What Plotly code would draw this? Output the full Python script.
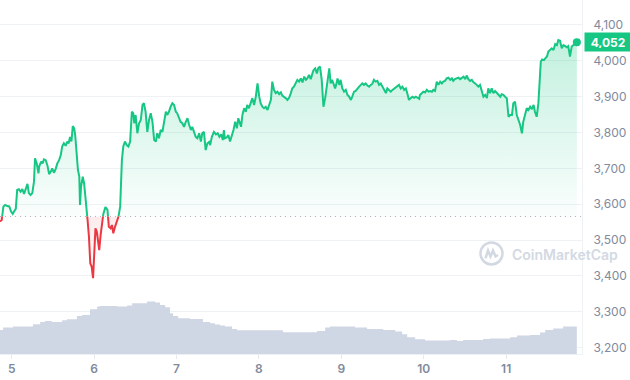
import pandas as pd
import plotly.graph_objects as go

# ---------------- data ----------------
start_time = "2024-03-04 20:35"
open_price = 3566

price_hours = [
    0.0, 0.5, 1.0, 1.5, 2.1, 2.7, 3.2, 3.7, 4.1, 4.6,
    5.0, 5.5, 6.0, 6.5, 7.0, 7.5, 8.0, 8.4, 8.9, 9.4,
    9.9, 10.2, 10.7, 11.2, 11.4, 12.0, 12.4, 12.8, 13.3, 13.8,
    14.3, 14.8, 15.2, 15.7, 16.2, 16.7, 17.2, 17.7, 18.1, 18.6,
    19.1, 19.6, 20.0, 20.4, 20.8, 21.2, 21.6, 21.9, 22.3, 22.7,
    23.1, 23.3, 23.6, 24.1, 24.5, 24.8, 25.3, 25.5, 25.9, 26.3,
    26.7, 27.1, 27.5, 27.8, 28.2, 28.5, 28.9,
    29.3, 29.7, 30.1, 30.7, 31.3, 31.7, 32.2, 32.6, 33.0, 33.5,
    34.0, 34.5, 35.0, 35.5, 35.9, 36.4, 36.9, 37.4, 37.9, 38.4,
    38.8, 39.1, 39.5, 40.0, 40.5, 41.0, 41.5, 41.9, 42.4, 42.9,
    43.4, 43.9, 44.4, 44.9, 45.4, 45.8, 46.3, 46.8, 47.3, 47.8,
    48.3, 48.7, 49.2, 49.7, 50.2, 50.7, 51.2, 51.6, 52.1, 52.6,
    53.1, 53.6, 54.1, 54.6, 55.1, 55.6, 56.0, 56.5, 57.0, 57.5,
    58.0, 58.5, 58.9, 59.4,
    59.9, 60.4, 60.9, 61.2, 61.7, 62.3, 62.9, 63.4, 63.9, 64.4,
    64.9, 65.2, 65.5, 66.0, 66.5, 67.0, 67.5, 68.0, 68.5, 69.0,
    69.4, 69.8, 70.2, 70.6, 71.1, 71.6, 72.0, 72.5, 73.0, 73.5,
    74.0, 74.5, 75.0, 75.2, 75.5, 75.9, 76.4, 76.9, 77.4, 77.9,
    78.4, 78.9, 79.3, 79.8, 80.3, 80.8, 81.3, 81.8, 82.2, 82.7,
    83.2, 83.7, 84.2, 84.7, 85.1, 85.6, 86.1, 86.6, 87.1, 87.6,
    88.1, 88.6, 89.1, 89.5, 90.0, 90.5, 91.0, 91.3,
    91.8, 92.3, 92.7, 93.2, 93.7, 94.2, 94.7, 95.2, 95.6, 95.9,
    96.3, 96.7, 97.1, 97.6, 97.9, 98.3, 98.8, 99.2, 99.7, 100.2,
    100.7, 101.2, 101.7, 102.2, 102.6, 103.1, 103.6, 104.1, 104.6, 105.1,
    105.5, 106.0, 106.5, 107.0, 107.5, 108.0, 108.5, 108.9, 109.4, 109.9,
    110.4, 110.9, 111.4, 111.9, 112.4, 112.8, 113.3, 113.8, 114.3, 114.8,
    115.3, 115.7, 116.2, 116.7, 117.2, 117.7, 118.2, 118.6, 119.1, 119.6,
    120.1, 120.6, 121.1, 121.6, 122.1,
    122.3, 122.8, 123.3, 123.8, 124.3, 124.8, 125.3, 125.8, 126.2, 126.7,
    127.2, 127.7, 128.2, 128.7, 129.1, 129.6, 130.1, 130.6, 131.1, 131.6,
    132.0, 132.5, 133.0, 133.5, 134.0, 134.5, 135.0, 135.5, 135.9, 136.4,
    136.9, 137.4, 137.9, 138.4, 138.9, 139.3, 139.8, 140.3, 140.8, 141.3,
    141.8, 142.2, 142.7, 143.2, 143.7, 144.2, 144.7, 145.2, 145.7, 146.1,
    146.6, 147.1, 147.6,
    148.1, 148.6, 149.1, 149.5, 150.0, 150.5, 151.0, 151.5, 152.0, 152.4,
    152.9, 153.4, 153.9, 154.4, 154.9, 155.4, 155.8, 156.3, 156.8, 157.1,
    157.5, 157.9, 158.4, 158.8, 159.3, 159.7, 160.2, 160.7, 161.2, 161.7,
    162.2, 162.6, 163.1, 163.6, 164.1, 164.6, 165.1, 165.5, 166.0, 166.5,
    167.0, 167.5, 168.0,
]

price = [
    3552, 3556, 3594, 3598, 3595, 3594, 3580, 3573, 3580, 3587,
    3640, 3642, 3635, 3642, 3629, 3645, 3657, 3631, 3626, 3631,
    3663, 3728, 3714, 3686, 3705, 3719, 3714, 3725, 3723, 3709,
    3684, 3691, 3700, 3688, 3698, 3714, 3723, 3737, 3761, 3770,
    3763, 3775, 3770, 3788, 3775, 3818, 3812, 3793, 3733, 3696,
    3677, 3598, 3649, 3677, 3658, 3631, 3584, 3556, 3510, 3435,
    3426, 3394, 3472, 3533, 3523, 3500, 3472,
    3514, 3545, 3573, 3592, 3584, 3537, 3533, 3542, 3519, 3537,
    3551, 3565, 3594, 3723, 3761, 3775, 3765, 3761, 3775, 3858,
    3854, 3826, 3849, 3798, 3826, 3835, 3877, 3882, 3858, 3802,
    3835, 3854, 3830, 3779, 3775, 3798, 3784, 3807, 3802, 3826,
    3858, 3849, 3858, 3872, 3882, 3877, 3858, 3854, 3840, 3830,
    3826, 3816, 3830, 3840, 3821, 3807, 3816, 3802, 3788, 3784,
    3798, 3775, 3798, 3802,
    3751, 3770, 3774, 3765, 3788, 3802, 3795, 3798, 3788, 3795,
    3779, 3807, 3784, 3786, 3793, 3775, 3788, 3807, 3830, 3812,
    3840, 3826, 3816, 3849, 3868, 3858, 3877, 3868, 3886, 3896,
    3877, 3900, 3937, 3919, 3900, 3882, 3872, 3868, 3872, 3863,
    3877, 3891, 3942, 3919, 3910, 3914, 3907, 3912, 3903, 3900,
    3896, 3891, 3897, 3910, 3923, 3928, 3937, 3947, 3942, 3951,
    3940, 3956, 3947, 3951, 3961, 3949, 3965, 3974,
    3979, 3965, 3980, 3984, 3947, 3872, 3896, 3933, 3970, 3979,
    3937, 3947, 3937, 3923, 3933, 3951, 3933, 3947, 3923, 3914,
    3919, 3905, 3900, 3891, 3900, 3914, 3916, 3923, 3928, 3933,
    3937, 3933, 3937, 3931, 3928, 3933, 3937, 3947, 3942, 3944,
    3933, 3937, 3928, 3923, 3910, 3923, 3919, 3914, 3919, 3923,
    3928, 3930, 3933, 3923, 3928, 3919, 3923, 3910, 3891, 3896,
    3900, 3897, 3900, 3897, 3894,
    3905, 3910, 3914, 3912, 3919, 3914, 3916, 3914, 3919, 3916,
    3942, 3933, 3942, 3937, 3942, 3944, 3951, 3953, 3947, 3951,
    3944, 3949, 3951, 3953, 3949, 3953, 3956, 3949, 3959, 3949,
    3944, 3947, 3940, 3937, 3933, 3928, 3933, 3916, 3900, 3905,
    3896, 3923, 3910, 3923, 3910, 3916, 3910, 3907, 3900, 3907,
    3905, 3900, 3896,
    3844, 3849, 3849, 3882, 3886, 3849, 3835, 3821, 3798, 3830,
    3849, 3868, 3863, 3872, 3865, 3877, 3858, 3844, 3882, 3947,
    3998, 4004, 4002, 4007, 4012, 4026, 4030, 4035, 4030, 4047,
    4044, 4058, 4056, 4035, 4044, 4040, 4038, 4041, 4012, 4040,
    4044, 4049, 4052,
]

volume_hours = [
    0.0, 0.9, 3.8, 9.6, 11.7, 13.1, 15.1, 18.1, 19.5, 22.4,
    23.9, 26.2, 28.3, 29.1, 34.1, 37.0, 38.5, 42.8, 45.2, 46.6,
    48.1, 49.5, 50.4, 51.9, 55.3, 59.1, 61.2, 62.6, 64.1, 65.5,
    67.6, 69.0, 82.4, 92.3, 94.7, 96.1, 103.4, 106.9, 111.6, 115.1,
    117.1, 118.6, 120.9, 123.8, 131.1, 133.1, 134.9, 140.7, 142.7, 148.6,
    150.6, 154.4, 157.3, 158.8, 161.1, 164.0, 168.0,
]
volume_bn = [
    12.0, 13.2, 13.7, 14.9, 16.0, 16.5, 16.0, 16.9, 17.4, 19.0,
    19.5, 22.4, 23.7, 24.0, 23.7, 24.2, 25.4, 26.2, 25.7, 24.5,
    23.4, 20.4, 19.0, 17.9, 17.5, 16.0, 15.4, 14.7, 14.2, 13.7,
    12.5, 11.9, 10.9, 11.5, 13.2, 13.7, 13.2, 12.5, 12.0, 11.2,
    9.9, 8.4, 7.4, 6.7, 7.0, 6.5, 7.0, 7.5, 7.7, 8.4,
    9.2, 9.5, 10.7, 12.0, 12.7, 13.7, 13.7,
]

day_ticks = ["2024-03-05", "2024-03-06", "2024-03-07", "2024-03-08",
             "2024-03-09", "2024-03-10", "2024-03-11"]
day_labels = ["5", "6", "7", "8", "9", "10", "11"]
price_ticks = [3200, 3300, 3400, 3500, 3600, 3700, 3800, 3900, 4000, 4100]
current_label = "4,052"

assert len(price_hours) == len(price)
assert len(volume_hours) == len(volume_bn)

# ---------------- styling ----------------
GREEN = "#16c784"
RED = "#ea3943"
GRID = "#eff2f5"
TXT = "#808a9d"
FONT = "Inter"

t0 = pd.Timestamp(start_time)
t_price = t0 + pd.to_timedelta(price_hours, unit="h")
t_vol = t0 + pd.to_timedelta(volume_hours, unit="h")
x_range = [t0, t0 + pd.Timedelta(hours=169.5)]

y_lo, y_hi = 3182.3, 4169.7
split = (open_price - y_lo) / (y_hi - y_lo)
base = [open_price] * len(price)

fig = go.Figure()

# volume (bottom overlay)
fig.add_trace(go.Scatter(
    x=t_vol, y=volume_bn, xaxis="x", yaxis="y2", mode="lines",
    line=dict(width=0, shape="hv"), fill="tozeroy", fillcolor="#cfd6e4",
    hoverinfo="skip", showlegend=False))

# upper (green) part, clipped at the open price
fig.add_trace(go.Scatter(
    x=t_price, y=base, xaxis="x", yaxis="y3", mode="lines",
    line=dict(width=0), hoverinfo="skip", showlegend=False))
fig.add_trace(go.Scatter(
    x=t_price, y=price, xaxis="x", yaxis="y3", mode="lines",
    line=dict(color=GREEN, width=2), fill="tonexty",
    fillgradient=dict(type="vertical", start=open_price, stop=4060,
                      colorscale=[[0, "rgba(22,199,132,0.02)"],
                                  [1, "rgba(22,199,132,0.26)"]]),
    showlegend=False))

# lower (red) part
fig.add_trace(go.Scatter(
    x=t_price, y=base, xaxis="x", yaxis="y4", mode="lines",
    line=dict(width=0), hoverinfo="skip", showlegend=False))
fig.add_trace(go.Scatter(
    x=t_price, y=price, xaxis="x", yaxis="y4", mode="lines",
    line=dict(color=RED, width=2), fill="tonexty",
    fillgradient=dict(type="vertical", start=3390, stop=open_price,
                      colorscale=[[0, "rgba(234,57,67,0.0)"],
                                  [1, "rgba(234,57,67,0.10)"]]),
    showlegend=False))

# last price dot
fig.add_trace(go.Scatter(
    x=[t_price[-1]], y=[price[-1]], xaxis="x", yaxis="y3", mode="markers",
    marker=dict(color=GREEN, size=8), showlegend=False, cliponaxis=False))

fig.update_layout(
    width=630, height=380,
    margin=dict(l=0, r=48, t=0, b=26),
    paper_bgcolor="white", plot_bgcolor="rgba(0,0,0,0)",
    font=dict(family=FONT, color=TXT),
    xaxis=dict(type="date", range=x_range, domain=[0, 1], anchor="y",
               tickvals=day_ticks, ticktext=day_labels,
               showgrid=False, zeroline=False,
               showline=True, linecolor=GRID, linewidth=1,
               ticks="outside", ticklen=4, tickcolor="#e6e9ee",
               tickfont=dict(size=12, color=TXT, family=FONT, weight=600)),
    yaxis=dict(range=[y_lo, y_hi], side="right", anchor="x",
               tickvals=price_ticks, tickformat=",",
               showgrid=True, gridcolor=GRID, gridwidth=1, zeroline=False,
               showline=True, linecolor=GRID, linewidth=1,
               ticks="", ticklabelstandoff=8,
               tickfont=dict(size=12, color=TXT, family=FONT)),
    yaxis2=dict(overlaying="y", range=[0, 177], visible=False),
    yaxis3=dict(domain=[split, 1], range=[open_price, y_hi], anchor="x",
                visible=False),
    yaxis4=dict(domain=[0, split], range=[y_lo, open_price], anchor="x",
                visible=False),
    hovermode=False,
)

# dotted open-price line
fig.add_shape(type="line", xref="paper", x0=0, x1=1, yref="y",
              y0=open_price, y1=open_price,
              line=dict(color="#a7b0c0", width=1, dash="1px,4px"))

# current price tag
fig.add_annotation(xref="paper", x=584 / 582, xanchor="left",
                   yref="y", y=price[-1], yanchor="middle",
                   text="<b>" + current_label + "</b>", showarrow=False,
                   bgcolor=GREEN, borderpad=3, width=40, height=12,
                   font=dict(color="white", size=12, family=FONT))

# watermark
cx, cy = 0.8445, 0.284
fig.add_shape(type="circle", xref="paper", yref="paper",
              xsizemode="pixel", ysizemode="pixel", xanchor=cx, yanchor=cy,
              x0=-11, x1=11, y0=-11, y1=11,
              line=dict(color="#d3d9e3", width=2.5))
fig.add_shape(type="path", xref="paper", yref="paper",
              xsizemode="pixel", ysizemode="pixel", xanchor=cx, yanchor=cy,
              path="M -6,-5 L -3.5,3 L -1,-3 L 1.5,3 L 4,-3 L 6.5,-1.5",
              line=dict(color="#d3d9e3", width=2.5))
fig.add_annotation(xref="paper", x=510 / 582, xanchor="left",
                   yref="paper", y=0.28, yanchor="middle",
                   text="CoinMarketCap", showarrow=False,
                   font=dict(size=14, color="#d3d9e3", family=FONT, weight=600))

fig.write_html("out.html",
               config={"displayModeBar": False},
               post_script="document.body.style.margin='0px';"
                           "document.body.style.overflow='hidden';")
